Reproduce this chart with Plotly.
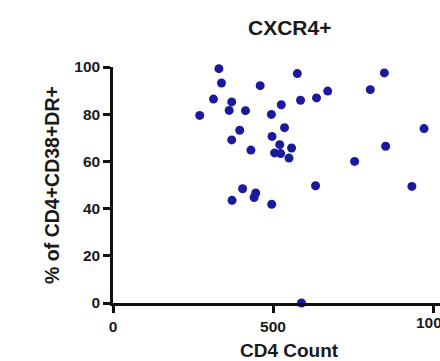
import plotly.graph_objects as go

cd4_count = [271, 331, 339, 314, 371, 363, 414, 396, 371, 431, 460, 576, 586, 636, 671,
             526, 495, 536, 497, 521, 558, 505, 524, 550, 405, 372, 446, 441, 496, 633,
             755, 804, 848, 852, 934, 972, 589]
pct_dr = [79.5, 99.3, 93.2, 86.4, 85.2, 81.6, 81.5, 73.2, 69.1, 64.8, 92.1, 97.2, 85.9, 86.9, 89.8,
          84.0, 79.9, 74.3, 70.6, 67.1, 65.7, 63.6, 63.3, 61.4, 48.4, 43.5, 46.6, 44.7, 41.8, 49.7,
          60.0, 90.4, 97.5, 66.4, 49.4, 73.9, 0.0]
x_ticks = [0, 500, 1000]
y_ticks = [0, 20, 40, 60, 80, 100]

W, H = 440, 361
ml, mt, mb = 113, 67, 58
px_per_unit = 0.32
x_max = (W - ml) / px_per_unit

font_family = "Liberation Sans, Arial, sans-serif"
ink = "#1a1a1a"

fig = go.Figure(go.Scatter(
    x=cd4_count, y=pct_dr, mode="markers",
    marker=dict(size=9, color="#1a1a9c"),
    cliponaxis=False,
))

axis_common = dict(
    showgrid=False, zeroline=False, showline=True, linecolor="#111", linewidth=2.5,
    ticks="outside", ticklen=7, tickwidth=2.5, tickcolor="#111",
    tickfont=dict(family=font_family, size=15.5, color=ink, weight="bold"),
)
fig.update_layout(
    width=W, height=H,
    margin=dict(l=ml, r=0, t=mt, b=mb),
    paper_bgcolor="white", plot_bgcolor="white",
    showlegend=False,
    xaxis=dict(range=[0, x_max], tickvals=x_ticks, ticklabelstandoff=1, **axis_common),
    yaxis=dict(range=[0, 100], tickvals=y_ticks, ticklabelstandoff=0,
               title=dict(text="% of CD4+CD38+DR+", standoff=10,
                          font=dict(family=font_family, size=19.5, color=ink, weight="bold")),
               **axis_common),
    font=dict(family=font_family, color=ink),
    annotations=[
        dict(text="CXCR4+", xref="paper", yref="paper",
             x=(289 - ml) / (W - ml), y=1 + (mt - 27) / (H - mt - mb),
             showarrow=False, font=dict(size=21, color=ink, weight="bold"),
             xanchor="center", yanchor="middle"),
        dict(text="CD4 Count", xref="paper", yref="paper",
             x=(289 - ml) / (W - ml), y=-(350 - (H - mb)) / (H - mt - mb),
             showarrow=False, font=dict(size=19, color=ink, weight="bold"),
             xanchor="center", yanchor="middle"),
        dict(text=str(x_ticks[-1]), x=x_ticks[-1], y=0, xref="x", yref="y",
             showarrow=False, yanchor="top", xanchor="center", yshift=-9,
             font=dict(family=font_family, size=15.5, color=ink, weight="bold")),
    ],
)
fig.write_html("out.html")
